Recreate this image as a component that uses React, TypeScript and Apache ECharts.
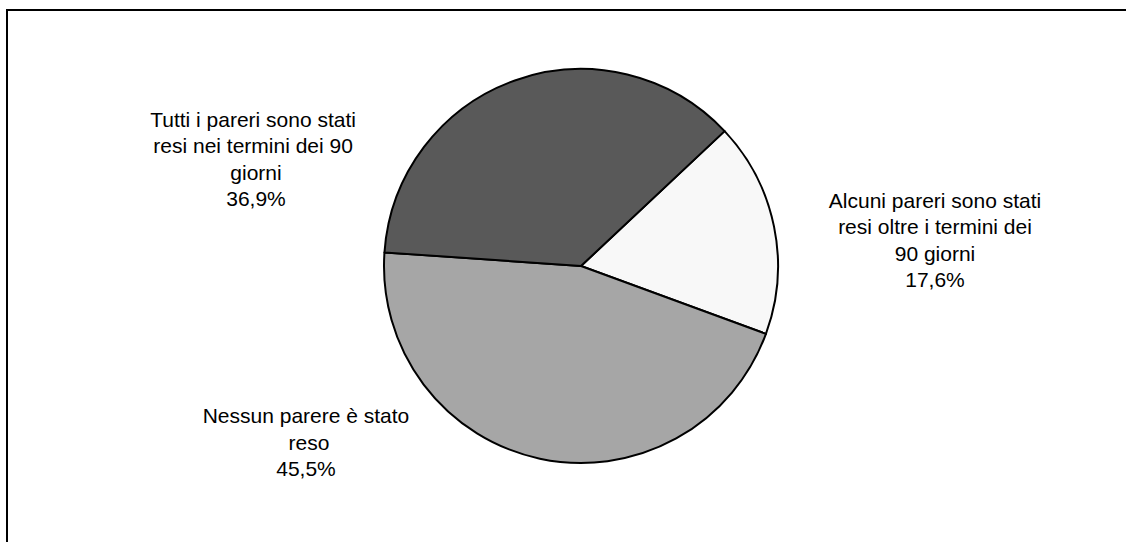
import React, { useEffect, useRef } from "react";
import * as echarts from "echarts";

const categories = [
  "Alcuni pareri sono stati resi oltre i termini dei 90 giorni",
  "Nessun parere è stato reso",
  "Tutti i pareri sono stati resi nei termini dei 90 giorni",
];
const values = [17.6, 45.5, 36.9];
const colors = ["#f8f8f8", "#a6a6a6", "#595959"];
// label block centres (pixels), as placed in the reference
const labelCentres = [
  [935, 240],
  [306, 442],
  [256, 159],
];

export default function App() {
  const ref = useRef<HTMLDivElement>(null);
  useEffect(() => {
    if (!ref.current) return;
    const chart = echarts.init(ref.current, null, { renderer: "svg" });
    chart.setOption({
      animation: false,
      backgroundColor: "#ffffff",
      graphic: [
        {
          type: "rect",
          shape: { x: 7, y: 10, width: 1200, height: 600 },
          style: { fill: "none", stroke: "#000", lineWidth: 2 },
          silent: true,
        },
      ],
      series: [
        {
          type: "pie",
          center: [581, 266],
          radius: 197,
          startAngle: 43.2,
          clockwise: true,
          avoidLabelOverlap: false,
          itemStyle: { borderColor: "#000", borderWidth: 2 },
          labelLine: { show: false },
          label: {
            show: true,
            position: "outside",
            color: "#000",
            fontFamily: "Liberation Sans, Arial, sans-serif",
            fontSize: 21,
            lineHeight: 26.5,
            width: 218,
            overflow: "break",
            align: "center",
            formatter: (p: any) =>
              p.name + "\n" + Number(p.value).toFixed(1).replace(".", ",") + "%",
          },
          labelLayout: (params: any) => {
            const c = labelCentres[params.dataIndex];
            return { x: c[0], y: c[1], align: "center", verticalAlign: "middle" };
          },
          data: categories.map((name, i) => ({
            name,
            value: values[i],
            itemStyle: { color: colors[i] },
          })),
        },
      ],
    });
    return () => chart.dispose();
  }, []);
  return (
    <div
      ref={ref}
      style={{ position: "absolute", left: 0, top: 0, width: 1126, height: 542 }}
    />
  );
}
